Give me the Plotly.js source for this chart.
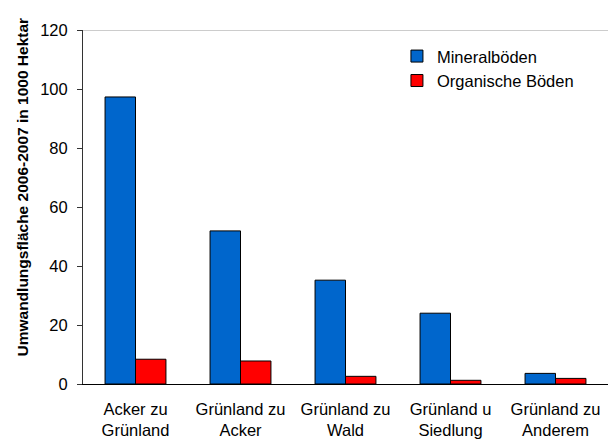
<!DOCTYPE html>
<html><head><meta charset="utf-8">
<script src="https://cdn.plot.ly/plotly-3.0.1.min.js"></script>
<style>body{margin:0}</style></head>
<body><div id="chart" style="width:609px;height:444px"></div>
<script>
const categories = ["Acker zu<br>Grünland", "Grünland zu<br>Acker", "Grünland zu<br>Wald", "Grünland u<br>Siedlung", "Grünland zu<br>Anderem"];
const mineral = [97.3, 51.9, 35.2, 24.0, 3.6];
const organisch = [8.4, 7.8, 2.6, 1.25, 1.9];
const yTicks = [0, 20, 40, 60, 80, 100, 120];
const yTitle = 'Umwandlungsfläche 2006-2007 in 1000 Hektar';

const data = [
  {type:'bar', name:'Mineralböden', x:categories, y:mineral,
   marker:{color:'#0066CC', line:{color:'#000', width:1}}},
  {type:'bar', name:'Organische Böden', x:categories, y:organisch,
   marker:{color:'#FF0000', line:{color:'#000', width:1}}}
];
const layout = {
  width:609, height:444,
  margin:{l:83, r:1, t:30, b:60},
  paper_bgcolor:'#fff', plot_bgcolor:'#fff',
  font:{family:'Liberation Sans, Arial, sans-serif', size:16.5, color:'#000'},
  barmode:'group', bargap:0.42, bargroupgap:0,
  showlegend:true,
  legend:{x:0.598, y:0.975, xanchor:'left', yanchor:'top', bgcolor:'rgba(0,0,0,0)',
          font:{size:16.5}, itemwidth:30},
  xaxis:{showline:true, linecolor:'#000', linewidth:1, ticks:'', tickfont:{size:16.5},
         showgrid:false, zeroline:false, ticklabelstandoff:10},
  yaxis:{range:[0,120], tickvals:yTicks, ticktext:yTicks.map(String), showline:true,
         linecolor:'#333', linewidth:1, ticks:'outside', ticklen:5, tickcolor:'#333',
         showgrid:false, zeroline:false, tickfont:{size:16.5}, ticklabelstandoff:6},
  annotations:[{text:'<b>'+yTitle+'</b>', textangle:-90, xref:'paper', yref:'paper',
    x:0, y:(384-187.5)/354, xanchor:'center', yanchor:'middle', xshift:-61,
    showarrow:false, font:{size:15.5, color:'#000'}}],
  shapes:[{type:'line', xref:'paper', yref:'y', x0:0, x1:1, y0:120, y1:120,
           line:{color:'#999', width:1}}]
};
Plotly.newPlot('chart', data, layout, {displayModeBar:false});
</script></body></html>
